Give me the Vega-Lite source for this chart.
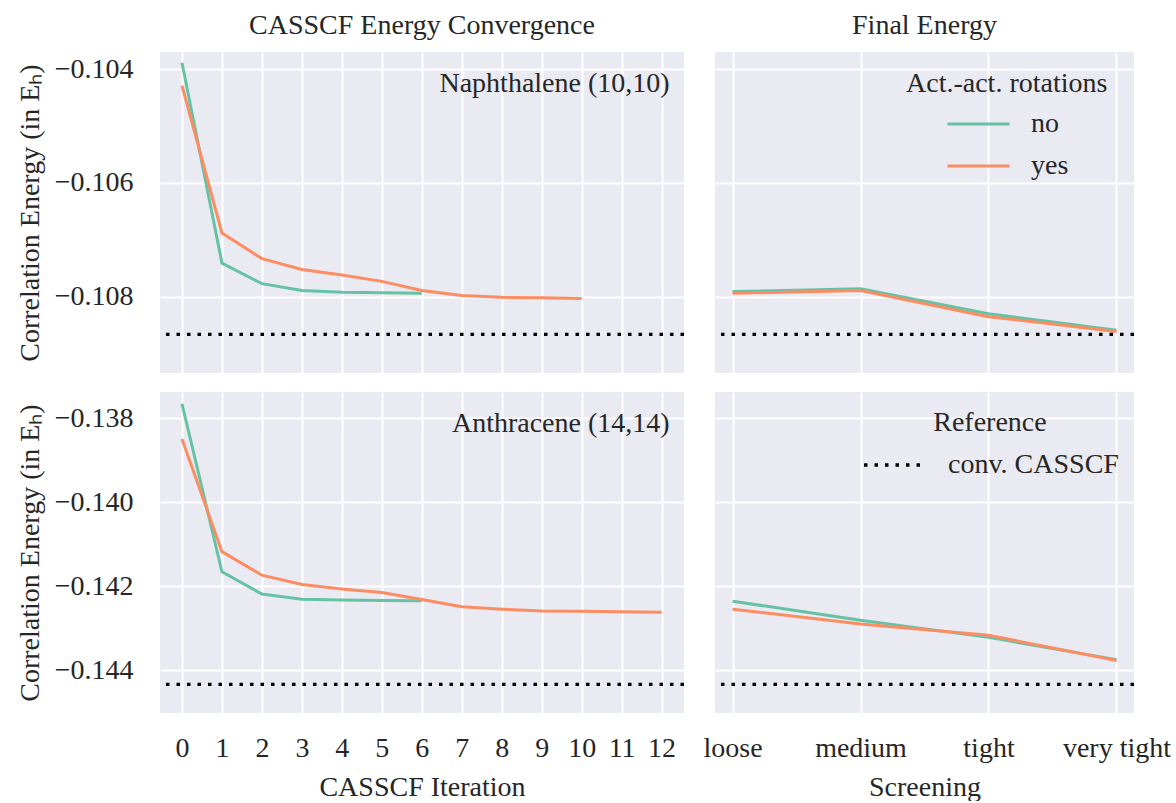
{
  "$schema": "https://vega.github.io/schema/vega-lite/v6.json",
  "padding": {"left": 16, "top": 12, "right": 0, "bottom": 0},
  "background": "white",
  "datasets": {
    "conv": [
      {"molecule": "Naphthalene", "rot": "no", "iter": 0, "energy": -0.10389},
      {"molecule": "Naphthalene", "rot": "no", "iter": 1, "energy": -0.10741},
      {"molecule": "Naphthalene", "rot": "no", "iter": 2, "energy": -0.10777},
      {"molecule": "Naphthalene", "rot": "no", "iter": 3, "energy": -0.10789},
      {"molecule": "Naphthalene", "rot": "no", "iter": 4, "energy": -0.10792},
      {"molecule": "Naphthalene", "rot": "no", "iter": 5, "energy": -0.10793},
      {"molecule": "Naphthalene", "rot": "no", "iter": 6, "energy": -0.10794},
      {"molecule": "Naphthalene", "rot": "yes", "iter": 0, "energy": -0.10429},
      {"molecule": "Naphthalene", "rot": "yes", "iter": 1, "energy": -0.10688},
      {"molecule": "Naphthalene", "rot": "yes", "iter": 2, "energy": -0.10733},
      {"molecule": "Naphthalene", "rot": "yes", "iter": 3, "energy": -0.10752},
      {"molecule": "Naphthalene", "rot": "yes", "iter": 4, "energy": -0.10762},
      {"molecule": "Naphthalene", "rot": "yes", "iter": 5, "energy": -0.10773},
      {"molecule": "Naphthalene", "rot": "yes", "iter": 6, "energy": -0.10789},
      {"molecule": "Naphthalene", "rot": "yes", "iter": 7, "energy": -0.10798},
      {"molecule": "Naphthalene", "rot": "yes", "iter": 8, "energy": -0.10801},
      {"molecule": "Naphthalene", "rot": "yes", "iter": 9, "energy": -0.10802},
      {"molecule": "Naphthalene", "rot": "yes", "iter": 10, "energy": -0.10803},
      {"molecule": "Anthracene", "rot": "no", "iter": 0, "energy": -0.13766},
      {"molecule": "Anthracene", "rot": "no", "iter": 1, "energy": -0.14166},
      {"molecule": "Anthracene", "rot": "no", "iter": 2, "energy": -0.14219},
      {"molecule": "Anthracene", "rot": "no", "iter": 3, "energy": -0.14231},
      {"molecule": "Anthracene", "rot": "no", "iter": 4, "energy": -0.14233},
      {"molecule": "Anthracene", "rot": "no", "iter": 5, "energy": -0.14234},
      {"molecule": "Anthracene", "rot": "no", "iter": 6, "energy": -0.14235},
      {"molecule": "Anthracene", "rot": "yes", "iter": 0, "energy": -0.13850},
      {"molecule": "Anthracene", "rot": "yes", "iter": 1, "energy": -0.14118},
      {"molecule": "Anthracene", "rot": "yes", "iter": 2, "energy": -0.14174},
      {"molecule": "Anthracene", "rot": "yes", "iter": 3, "energy": -0.14196},
      {"molecule": "Anthracene", "rot": "yes", "iter": 4, "energy": -0.14207},
      {"molecule": "Anthracene", "rot": "yes", "iter": 5, "energy": -0.14215},
      {"molecule": "Anthracene", "rot": "yes", "iter": 6, "energy": -0.14232},
      {"molecule": "Anthracene", "rot": "yes", "iter": 7, "energy": -0.14249},
      {"molecule": "Anthracene", "rot": "yes", "iter": 8, "energy": -0.14255},
      {"molecule": "Anthracene", "rot": "yes", "iter": 9, "energy": -0.14259},
      {"molecule": "Anthracene", "rot": "yes", "iter": 10, "energy": -0.14260},
      {"molecule": "Anthracene", "rot": "yes", "iter": 11, "energy": -0.14261},
      {"molecule": "Anthracene", "rot": "yes", "iter": 12, "energy": -0.14262}
    ],
    "final": [
      {"molecule": "Naphthalene", "rot": "no", "screening": "loose", "energy": -0.10791},
      {"molecule": "Naphthalene", "rot": "no", "screening": "medium", "energy": -0.10786},
      {"molecule": "Naphthalene", "rot": "no", "screening": "tight", "energy": -0.10830},
      {"molecule": "Naphthalene", "rot": "no", "screening": "very tight", "energy": -0.10859},
      {"molecule": "Naphthalene", "rot": "yes", "screening": "loose", "energy": -0.10794},
      {"molecule": "Naphthalene", "rot": "yes", "screening": "medium", "energy": -0.10789},
      {"molecule": "Naphthalene", "rot": "yes", "screening": "tight", "energy": -0.10835},
      {"molecule": "Naphthalene", "rot": "yes", "screening": "very tight", "energy": -0.10861},
      {"molecule": "Anthracene", "rot": "no", "screening": "loose", "energy": -0.14236},
      {"molecule": "Anthracene", "rot": "no", "screening": "medium", "energy": -0.14281},
      {"molecule": "Anthracene", "rot": "no", "screening": "tight", "energy": -0.14322},
      {"molecule": "Anthracene", "rot": "no", "screening": "very tight", "energy": -0.14375},
      {"molecule": "Anthracene", "rot": "yes", "screening": "loose", "energy": -0.14255},
      {"molecule": "Anthracene", "rot": "yes", "screening": "medium", "energy": -0.14290},
      {"molecule": "Anthracene", "rot": "yes", "screening": "tight", "energy": -0.14317},
      {"molecule": "Anthracene", "rot": "yes", "screening": "very tight", "energy": -0.14377}
    ],
    "ref": [
      {"molecule": "Naphthalene", "ref": "conv. CASSCF", "energy": -0.10866},
      {"molecule": "Anthracene", "ref": "conv. CASSCF", "energy": -0.14434}
    ],
    "labels": [
      {"molecule": "Naphthalene", "label": "Naphthalene (10,10)"},
      {"molecule": "Anthracene", "label": "Anthracene (14,14)"}
    ]
  },
  "vconcat": [
    {
      "hconcat": [
        {
          "width": 524,
          "height": 321,
          "title": "CASSCF Energy Convergence",
          "layer": [
            {
              "data": {"name": "conv"},
              "transform": [{"filter": "datum.molecule === 'Naphthalene'"}],
              "mark": {"type": "line", "strokeWidth": 3},
              "encoding": {
                "x": {"field": "iter", "type": "quantitative",
                      "scale": {"domain": [-0.55, 12.56], "nice": false, "zero": false},
                      "axis": {"values": [0,1,2,3,4,5,6,7,8,9,10,11,12], "labels": false, "title": null}},
                "y": {"field": "energy", "type": "quantitative",
                      "scale": {"domain": [-0.10934, -0.10370], "nice": false, "zero": false},
                      "axis": {"values": [-0.108, -0.106, -0.104], "format": ".3f", "title": "Correlation Energy (in Eₕ)"}},
                "color": {"field": "rot", "type": "nominal",
                          "scale": {"domain": ["no", "yes"], "range": ["#66c2a5", "#fc8d62"]},
                          "legend": null}
              }
            },
            {
              "data": {"name": "ref"},
              "transform": [{"filter": "datum.molecule === 'Naphthalene'"}],
              "mark": {"type": "rule", "color": "black", "strokeWidth": 3.3, "strokeDash": [3.5, 7]},
              "encoding": {"y": {"field": "energy", "type": "quantitative"}}
            },
            {
              "data": {"name": "labels"},
              "transform": [{"filter": "datum.molecule === 'Naphthalene'"}],
              "mark": {"type": "text", "align": "right", "baseline": "middle", "fontSize": 28, "color": "#262626"},
              "encoding": {
                "x": {"datum": 12.2, "type": "quantitative"},
                "y": {"datum": -0.10426, "type": "quantitative"},
                "text": {"field": "label"}
              }
            }
          ]
        },
        {
          "width": 419,
          "height": 321,
          "title": "Final Energy",
          "layer": [
            {
              "data": {"name": "final"},
              "transform": [{"filter": "datum.molecule === 'Naphthalene'"}],
              "mark": {"type": "line", "strokeWidth": 3},
              "encoding": {
                "x": {"field": "screening", "type": "ordinal",
                      "scale": {"type": "point", "domain": ["loose", "medium", "tight", "very tight"], "padding": 0.137},
                      "axis": {"labels": false, "title": null, "grid": true}},
                "y": {"field": "energy", "type": "quantitative",
                      "scale": {"domain": [-0.10934, -0.10370], "nice": false, "zero": false},
                      "axis": {"values": [-0.108, -0.106, -0.104], "labels": false, "title": null, "minExtent": 0, "maxExtent": 0}},
                "color": {"field": "rot", "type": "nominal",
                          "scale": {"domain": ["no", "yes"], "range": ["#66c2a5", "#fc8d62"]},
                          "legend": {"title": "Act.-act. rotations", "orient": "none", "legendX": 191, "legendY": 18,
                                     "symbolType": "stroke", "symbolSize": 3844, "symbolStrokeWidth": 3,
                                     "symbolOffset": 40, "labelOffset": 20, "clipHeight": 28,
                                     "rowPadding": 14, "titlePadding": 12}}
              }
            },
            {
              "data": {"name": "ref"},
              "transform": [{"filter": "datum.molecule === 'Naphthalene'"}],
              "mark": {"type": "rule", "color": "black", "strokeWidth": 3.3, "strokeDash": [3.5, 7]},
              "encoding": {"y": {"field": "energy", "type": "quantitative"}}
            }
          ]
        }
      ],
      "spacing": 31,
      "bounds": "flush",
      "resolve": {"legend": {"color": "independent", "strokeDash": "independent"}}
    },
    {
      "hconcat": [
        {
          "width": 524,
          "height": 321,
          "layer": [
            {
              "data": {"name": "conv"},
              "transform": [{"filter": "datum.molecule === 'Anthracene'"}],
              "mark": {"type": "line", "strokeWidth": 3},
              "encoding": {
                "x": {"field": "iter", "type": "quantitative",
                      "scale": {"domain": [-0.55, 12.56], "nice": false, "zero": false},
                      "axis": {"values": [0,1,2,3,4,5,6,7,8,9,10,11,12], "title": "CASSCF Iteration"}},
                "y": {"field": "energy", "type": "quantitative",
                      "scale": {"domain": [-0.14502, -0.13738], "nice": false, "zero": false},
                      "axis": {"values": [-0.144, -0.142, -0.140, -0.138], "format": ".3f", "title": "Correlation Energy (in Eₕ)"}},
                "color": {"field": "rot", "type": "nominal",
                          "scale": {"domain": ["no", "yes"], "range": ["#66c2a5", "#fc8d62"]},
                          "legend": null}
              }
            },
            {
              "data": {"name": "ref"},
              "transform": [{"filter": "datum.molecule === 'Anthracene'"}],
              "mark": {"type": "rule", "color": "black", "strokeWidth": 3.3, "strokeDash": [3.5, 7]},
              "encoding": {"y": {"field": "energy", "type": "quantitative"}}
            },
            {
              "data": {"name": "labels"},
              "transform": [{"filter": "datum.molecule === 'Anthracene'"}],
              "mark": {"type": "text", "align": "right", "baseline": "middle", "fontSize": 28, "color": "#262626"},
              "encoding": {
                "x": {"datum": 12.2, "type": "quantitative"},
                "y": {"datum": -0.13814, "type": "quantitative"},
                "text": {"field": "label"}
              }
            }
          ]
        },
        {
          "width": 419,
          "height": 321,
          "layer": [
            {
              "data": {"name": "final"},
              "transform": [{"filter": "datum.molecule === 'Anthracene'"}],
              "mark": {"type": "line", "strokeWidth": 3},
              "encoding": {
                "x": {"field": "screening", "type": "ordinal",
                      "scale": {"type": "point", "domain": ["loose", "medium", "tight", "very tight"], "padding": 0.137},
                      "axis": {"labelAngle": 0, "title": "Screening", "grid": true}},
                "y": {"field": "energy", "type": "quantitative",
                      "scale": {"domain": [-0.14502, -0.13738], "nice": false, "zero": false},
                      "axis": {"values": [-0.144, -0.142, -0.140, -0.138], "labels": false, "title": null, "minExtent": 0, "maxExtent": 0}},
                "color": {"field": "rot", "type": "nominal",
                          "scale": {"domain": ["no", "yes"], "range": ["#66c2a5", "#fc8d62"]},
                          "legend": null}
              }
            },
            {
              "data": {"name": "ref"},
              "transform": [{"filter": "datum.molecule === 'Anthracene'"}],
              "mark": {"type": "rule", "color": "black", "strokeWidth": 3.3},
              "encoding": {
                "y": {"field": "energy", "type": "quantitative"},
                "strokeDash": {"field": "ref", "type": "nominal",
                               "scale": {"domain": ["conv. CASSCF"], "range": [[3.5, 7]]},
                               "legend": {"title": "Reference", "orient": "none", "legendX": 147, "legendY": 17,
                                          "symbolType": "stroke", "symbolSize": 3249, "symbolStrokeWidth": 3.3,
                                          "symbolStrokeColor": "black", "labelOffset": 25, "clipHeight": 28,
                                          "titlePadding": 14, "titleAnchor": "middle"}}
              }
            }
          ]
        }
      ],
      "spacing": 31,
      "bounds": "flush",
      "resolve": {"legend": {"color": "independent", "strokeDash": "independent"}}
    }
  ],
  "spacing": 19,
  "resolve": {"legend": {"color": "independent", "strokeDash": "independent"}},
  "config": {
    "font": "Liberation Serif",
    "view": {"fill": "#eaeaf2", "stroke": null},
    "axis": {
      "domain": false, "ticks": false, "gridColor": "white", "gridWidth": 2, "gridOpacity": 1,
      "labelFont": "Liberation Serif", "labelFontSize": 28, "labelColor": "#262626",
      "titleFont": "Liberation Serif", "titleFontSize": 28, "titleFontWeight": "normal", "titleColor": "#262626"
    },
    "axisY": {"labelPadding": 27, "titlePadding": 10},
    "axisX": {"labelPadding": 21, "titlePadding": 11},
    "legend": {
      "labelFont": "Liberation Serif", "labelFontSize": 28, "labelColor": "#262626",
      "titleFont": "Liberation Serif", "titleFontSize": 28, "titleFontWeight": "normal", "titleColor": "#262626",
      "padding": 0, "titleLimit": 500, "labelLimit": 500
    },
    "title": {"font": "Liberation Serif", "fontSize": 28, "fontWeight": "normal", "color": "#262626", "offset": 12}
  }
}
